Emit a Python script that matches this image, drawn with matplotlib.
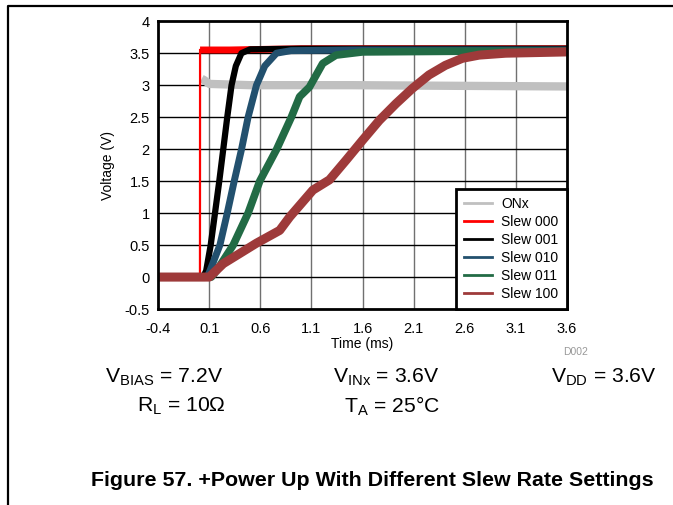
import matplotlib
matplotlib.use("Agg")
import matplotlib.pyplot as plt
from matplotlib.lines import Line2D

plt.rcParams["font.family"] = ["Liberation Sans", "DejaVu Sans"]
plt.rcParams["mathtext.fontset"] = "custom"
plt.rcParams["mathtext.rm"] = "Liberation Sans"

# ---- traces (time in ms, voltage in V) ----
onx_t = [-0.4, 0.02, 0.026, 0.05, 0.1, 0.5, 1.5, 2.5, 3.6]
onx_v = [0.0, 0.0, 3.10, 3.08, 3.02, 3.0, 3.0, 2.99, 2.98]

slew000_t = [-0.4, 0.009, 0.01, 0.3, 1.0, 2.0, 3.6]
slew000_v = [0.0, 0.0, 3.55, 3.55, 3.57, 3.57, 3.57]

slew001_t = [-0.4, 0.04, 0.07, 0.114, 0.156, 0.198, 0.237, 0.276, 0.318,
             0.36, 0.415, 0.5, 1.0, 2.0, 3.6]
slew001_v = [0.0, 0.0, 0.1, 0.5, 1.0, 1.5, 2.0, 2.5, 3.0,
             3.3, 3.5, 3.56, 3.57, 3.57, 3.57]

slew010_t = [-0.4, 0.08, 0.107, 0.204, 0.276, 0.344, 0.416, 0.48, 0.562,
             0.643, 0.757, 0.9, 1.5, 2.5, 3.6]
slew010_v = [0.0, 0.0, 0.1, 0.5, 1.0, 1.5, 2.0, 2.5, 3.0,
             3.3, 3.5, 3.54, 3.55, 3.55, 3.55]

slew011_t = [-0.4, 0.12, 0.172, 0.334, 0.48, 0.594, 0.76, 0.903, 0.984,
             1.08, 1.21, 1.34, 1.6, 2.5, 3.6]
slew011_v = [0.0, 0.0, 0.1, 0.5, 1.0, 1.5, 2.0, 2.5, 2.82,
             2.97, 3.34, 3.47, 3.52, 3.53, 3.53]

slew100_t = [-0.4, 0.1, 0.237, 0.562, 0.789, 0.887, 1.114, 1.276, 1.44,
             1.60, 1.764, 1.926, 2.088, 2.25, 2.41, 2.576, 2.74, 3.0, 3.6]
slew100_v = [0.0, 0.0, 0.21, 0.53, 0.73, 0.94, 1.36, 1.52, 1.83,
             2.14, 2.45, 2.71, 2.95, 3.16, 3.31, 3.42, 3.47, 3.5, 3.52]

labels = ["ONx", "Slew 000", "Slew 001", "Slew 010", "Slew 011", "Slew 100"]
colors = ["#c0c0c0", "#ff0000", "#000000", "#22506e", "#226b45", "#9e3a3a"]
widths = [6.0, 5.0, 4.5, 5.0, 5.5, 6.5]

series = [(onx_t, onx_v), (slew000_t, slew000_v), (slew001_t, slew001_v),
          (slew010_t, slew010_v), (slew011_t, slew011_v), (slew100_t, slew100_v)]

xticks = [-0.4, 0.1, 0.6, 1.1, 1.6, 2.1, 2.6, 3.1, 3.6]
yticks = [-0.5, 0, 0.5, 1, 1.5, 2, 2.5, 3, 3.5, 4]

fig = plt.figure(figsize=(6.73, 5.05), dpi=100)
ax = fig.add_axes([0.235, 0.388, 0.6075, 0.570])

for i, ((t, v), c, lw) in enumerate(zip(series, colors, widths)):
    if i == 1:
        # fast edge: thin vertical step, noisy plateau drawn thick
        ax.plot(t[:3], v[:3], color=c, linewidth=1.6, zorder=3)
        ax.plot(t[2:], v[2:], color=c, linewidth=lw, solid_capstyle="butt", zorder=3)
    elif i == 0:
        ax.plot(t[:2], v[:2], color=c, linewidth=lw, zorder=3)
        ax.plot(t[2:], v[2:], color=c, linewidth=lw, solid_capstyle="butt", zorder=3)
    else:
        ax.plot(t, v, color=c, linewidth=lw, solid_joinstyle="round", zorder=3)

ax.set_xlim(-0.4, 3.6)
ax.set_ylim(-0.5, 4)
ax.set_xticks(xticks)
ax.set_xticklabels([f"{x:g}" for x in xticks])
ax.set_yticks(yticks)
ax.set_yticklabels([f"{y:g}" for y in yticks])
ax.tick_params(length=0, labelsize=10.5)
ax.tick_params(axis="x", pad=9)
ax.tick_params(axis="y", pad=6)
for x in xticks[1:-1]:
    ax.axvline(x, color="#707070", linewidth=1.0, zorder=1)
for y in yticks[1:-1]:
    ax.axhline(y, color="#000000", linewidth=1.0, zorder=1)
for s in ax.spines.values():
    s.set_linewidth(2.0)
    s.set_zorder(5)

ax.set_xlabel("Time (ms)", fontsize=10, labelpad=1)
ax.set_ylabel("Voltage (V)", fontsize=10, labelpad=7)

handles = [Line2D([], [], color=c, linewidth=2) for c in colors]
leg = ax.legend(handles, labels, loc="lower right", fontsize=10,
                frameon=True, fancybox=False, framealpha=1,
                borderaxespad=0, handlelength=2.0, handletextpad=0.7,
                labelspacing=0.28, borderpad=0.6)
leg.get_frame().set_edgecolor("black")
leg.get_frame().set_linewidth(2.0)
leg.set_zorder(6)

fig.text(563 / 673, 1 - 352 / 505, "D002", fontsize=7.5, color="#999999",
         va="center", ha="left")

cond = dict(fontsize=15.2, va="center", ha="left")
fig.text(105 / 673, 1 - 377 / 505, r"V$_\mathrm{BIAS}$ = 7.2V", **cond)
fig.text(333 / 673, 1 - 377 / 505, r"V$_\mathrm{INx}$ = 3.6V", **cond)
fig.text(551 / 673, 1 - 377 / 505, r"V$_\mathrm{DD}$ = 3.6V", **cond)
fig.text(137 / 673, 1 - 406 / 505, r"R$_\mathrm{L}$ = 10Ω", **cond)
fig.text(344 / 673, 1 - 406 / 505, r"T$_\mathrm{A}$ = 25°C", **cond)

fig.text(91 / 673, 1 - 480 / 505,
         "Figure 57. +Power Up With Different Slew Rate Settings",
         fontsize=15.4, fontweight="bold", va="center", ha="left")

# page frame (top and left rules)
fig.add_artist(Line2D([8 / 673, 8 / 673, 1.0], [0.0, 1 - 6 / 505, 1 - 6 / 505],
                      color="black", linewidth=1.6, transform=fig.transFigure))

fig.savefig("out.png", dpi=100, facecolor="white")
